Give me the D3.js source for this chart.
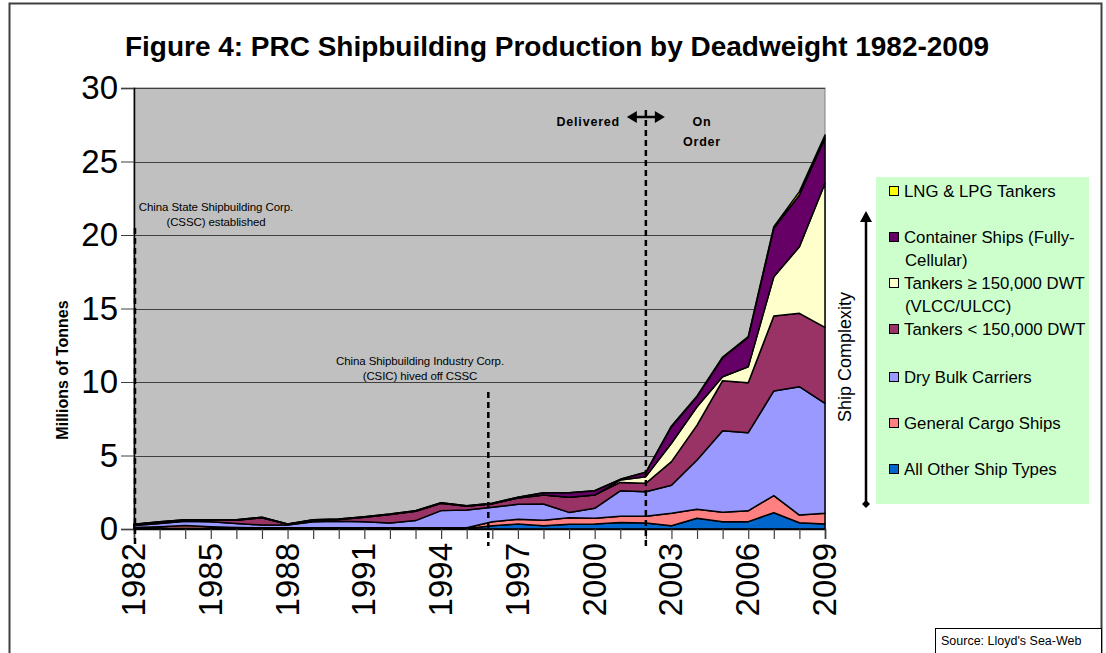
<!DOCTYPE html>
<html>
<head>
<meta charset="utf-8">
<script src="https://cdn.jsdelivr.net/npm/d3@7"></script>
<style>
  body { margin: 0; background: #ffffff; }
  text { font-family: "Liberation Sans", Arial, sans-serif; }
</style>
</head>
<body>
<script>
const width = 1106;
const height = 653;

// years 1982..2009
const years = d3.range(1982, 2010);

// millions of tonnes, per ship type (stacked bottom to top)
const allOther = [0.05, 0.05, 0.05, 0.05, 0.04, 0.04, 0.03, 0.04, 0.04, 0.04, 0.04, 0.04, 0.04, 0.04,
    0.22, 0.34, 0.22, 0.32, 0.34, 0.45, 0.40, 0.22, 0.73, 0.50, 0.50, 1.11, 0.43, 0.34];
const generalCargo = [0.05, 0.10, 0.18, 0.10, 0.06, 0.04, 0.05, 0.04, 0.04, 0.04, 0.04, 0.04, 0.04, 0.04,
    0.28, 0.32, 0.37, 0.45, 0.39, 0.41, 0.46, 0.85, 0.61, 0.64, 0.74, 1.16, 0.52, 0.73];
const dryBulk = [0.13, 0.23, 0.29, 0.35, 0.28, 0.19, 0.19, 0.42, 0.44, 0.42, 0.33, 0.49, 1.17, 1.21,
    0.98, 1.02, 1.11, 0.36, 0.68, 1.74, 1.68, 1.90, 3.35, 5.55, 5.31, 7.12, 8.73, 7.48];
const tankersSmall = [0.07, 0.08, 0.08, 0.10, 0.22, 0.50, 0.05, 0.10, 0.13, 0.30, 0.57, 0.63, 0.50, 0.26,
    0.24, 0.42, 0.61, 1.03, 0.90, 0.57, 0.57, 1.61, 2.38, 3.40, 3.40, 5.10, 4.99, 5.17];
const tankersLarge = [0, 0, 0, 0, 0, 0, 0, 0, 0, 0, 0, 0, 0, 0,
    0, 0, 0, 0, 0, 0.16, 0.45, 1.25, 1.25, 0.27, 1.09, 2.67, 4.53, 9.80];
const containers = [0.03, 0.03, 0.03, 0.03, 0.03, 0.03, 0.02, 0.03, 0.03, 0.04, 0.04, 0.05, 0.04, 0.04,
    0.03, 0.06, 0.16, 0.31, 0.29, 0.05, 0.30, 1.13, 0.68, 1.29, 2.00, 3.30, 3.52, 3.06];
const lngLpg = [0, 0, 0, 0, 0, 0, 0, 0, 0, 0, 0, 0, 0, 0,
    0, 0, 0, 0, 0, 0, 0, 0.05, 0.05, 0.05, 0.05, 0.11, 0.23, 0.22];

const seriesKeys = ["other", "cargo", "bulk", "tsmall", "tlarge", "container", "lng"];
const seriesColors = ["#0066CC", "#FF8080", "#9999FF", "#993366", "#FFFFCC", "#660066", "#FFFF00"];

// legend, top to bottom
const legendLabels = [
    ["LNG & LPG Tankers"],
    ["Container Ships (Fully-", "Cellular)"],
    ["Tankers \u2265 150,000 DWT", "(VLCC/ULCC)"],
    ["Tankers < 150,000 DWT"],
    ["Dry Bulk Carriers"],
    ["General Cargo Ships"],
    ["All Other Ship Types"]
];
const legendColors = ["#FFFF00", "#660066", "#FFFFCC", "#993366", "#9999FF", "#FF8080", "#0066CC"];
const legendY = [191, 237, 283, 329, 377, 423, 469];

const yTicks = [0, 5, 10, 15, 20, 25, 30];
const xLabelYears = [1982, 1985, 1988, 1991, 1994, 1997, 2000, 2003, 2006, 2009];

const rows = years.map((yr, i) => ({
    year: yr,
    other: allOther[i],
    cargo: generalCargo[i],
    bulk: dryBulk[i],
    tsmall: tankersSmall[i],
    tlarge: tankersLarge[i],
    container: containers[i],
    lng: lngLpg[i]
}));

const svg = d3.select("body")
    .append("svg")
    .attr("width", width)
    .attr("height", height);

// outer chart border
svg.append("rect")
    .attr("x", 9.5)
    .attr("y", 3.5)
    .attr("width", 1092)
    .attr("height", 670)
    .attr("fill", "#ffffff")
    .attr("stroke", "#404040")
    .attr("stroke-width", 2);

const xScale = d3.scaleLinear().domain([1982, 2009]).range([134, 825]);
const yScale = d3.scaleLinear().domain([0, 30]).range([529, 88]);

// plot area
svg.append("rect")
    .attr("x", xScale(1982))
    .attr("y", yScale(30))
    .attr("width", xScale(2009) - xScale(1982))
    .attr("height", yScale(0) - yScale(30))
    .attr("fill", "#C0C0C0")
    .attr("stroke", "#808080")
    .attr("stroke-width", 1);

// gridlines
svg.append("g")
    .selectAll("line")
    .data(yTicks.filter(d => d > 0))
    .enter()
    .append("line")
    .attr("x1", xScale(1982))
    .attr("x2", xScale(2009))
    .attr("y1", d => Math.round(yScale(d)) + 0.5)
    .attr("y2", d => Math.round(yScale(d)) + 0.5)
    .attr("stroke", "#404040")
    .attr("stroke-width", 1.2);

// stacked areas
const stack = d3.stack().keys(seriesKeys);
const layers = stack(rows);

const area = d3.area()
    .x(d => xScale(d.data.year))
    .y0(d => yScale(d[0]))
    .y1(d => yScale(d[1]));

svg.append("g")
    .selectAll("path")
    .data(layers)
    .enter()
    .append("path")
    .attr("d", area)
    .attr("fill", (d, i) => seriesColors[i])
    .attr("stroke", "#000000")
    .attr("stroke-width", 1.5)
    .attr("stroke-linejoin", "round");

// y axis
const yAxis = d3.axisLeft(yScale)
    .tickValues(yTicks)
    .tickSize(13)
    .tickPadding(3);

const yg = svg.append("g")
    .attr("transform", `translate(${xScale(1982)},0)`)
    .call(yAxis);
yg.selectAll("text")
    .attr("font-size", 33)
    .attr("fill", "#000");
yg.selectAll("line").attr("stroke", "#404040");
yg.select(".domain").attr("stroke", "#000").attr("stroke-width", 1.5);

// x axis
const xAxis = d3.axisBottom(xScale)
    .tickValues(years)
    .tickSize(10)
    .tickFormat("");

const xg = svg.append("g")
    .attr("transform", `translate(0,${yScale(0)})`)
    .call(xAxis);
xg.selectAll("line").attr("stroke", "#404040").attr("stroke-width", 1.2);
xg.select(".domain").attr("stroke", "#000").attr("stroke-width", 1.5);

svg.append("g")
    .selectAll("text")
    .data(xLabelYears)
    .enter()
    .append("text")
    .attr("transform", d => `translate(${xScale(d) + 11},${yScale(0) + 14}) rotate(-90)`)
    .attr("text-anchor", "end")
    .attr("font-size", 33)
    .text(d => d);

// dashed event lines
const events = [
    { year: 1982, top: 228, dx: 1 },
    { year: 1996, top: 392, dx: -4 },
    { year: 2002, top: 110, dx: 0 }
];
svg.append("g")
    .selectAll("line")
    .data(events)
    .enter()
    .append("line")
    .attr("x1", d => xScale(d.year) + d.dx)
    .attr("x2", d => xScale(d.year) + d.dx)
    .attr("y1", d => d.top)
    .attr("y2", 546)
    .attr("stroke", "#000")
    .attr("stroke-width", 2.5)
    .attr("stroke-dasharray", "6,4");

// annotations
const note = (lines, cx, y0) => {
    svg.append("text")
        .attr("x", cx)
        .attr("y", y0)
        .attr("text-anchor", "middle")
        .attr("font-size", 11.5)
        .attr("letter-spacing", -0.1)
        .selectAll("tspan")
        .data(lines)
        .enter()
        .append("tspan")
        .attr("x", cx)
        .attr("dy", (d, i) => i === 0 ? 0 : 15)
        .text(d => d);
};
note(["China State Shipbuilding Corp.", "(CSSC) established"], 216, 211);
note(["China Shipbuilding Industry Corp.", "(CSIC) hived off CSSC"], 420, 365);

svg.append("text")
    .attr("x", 620)
    .attr("y", 126)
    .attr("text-anchor", "end")
    .attr("font-size", 12.5)
    .attr("font-weight", "bold")
    .attr("letter-spacing", 0.8)
    .text("Delivered");

svg.append("text")
    .attr("x", 702)
    .attr("y", 126)
    .attr("text-anchor", "middle")
    .attr("font-size", 12.5)
    .attr("font-weight", "bold")
    .attr("letter-spacing", 0.8)
    .selectAll("tspan")
    .data(["On", "Order"])
    .enter()
    .append("tspan")
    .attr("x", 702)
    .attr("dy", (d, i) => i === 0 ? 0 : 20)
    .text(d => d);

// double arrow above 2002 line
const ax = xScale(2002);
svg.append("line")
    .attr("x1", ax - 12).attr("x2", ax + 12)
    .attr("y1", 117).attr("y2", 117)
    .attr("stroke", "#000").attr("stroke-width", 2.5);
svg.append("path")
    .attr("d", `M${ax - 19},117 L${ax - 9},111 L${ax - 9},123 Z M${ax + 19},117 L${ax + 9},111 L${ax + 9},123 Z`)
    .attr("fill", "#000");

// title
svg.append("text")
    .attr("x", 557)
    .attr("y", 56)
    .attr("text-anchor", "middle")
    .attr("font-size", 27)
    .attr("font-weight", "bold")
    .attr("textLength", 864)
    .attr("lengthAdjust", "spacingAndGlyphs")
    .text("Figure 4: PRC Shipbuilding Production by Deadweight 1982-2009");

// y label
svg.append("text")
    .attr("transform", "translate(68,370) rotate(-90)")
    .attr("text-anchor", "middle")
    .attr("font-size", 16)
    .attr("font-weight", "bold")
    .text("Millions of Tonnes");

// legend
svg.append("rect")
    .attr("x", 876)
    .attr("y", 177)
    .attr("width", 213)
    .attr("height", 327)
    .attr("fill", "#CCFFCC");

const leg = svg.append("g")
    .selectAll("g")
    .data(legendLabels)
    .enter()
    .append("g")
    .attr("transform", (d, i) => `translate(0,${legendY[i]})`);

leg.append("rect")
    .attr("x", 889.5)
    .attr("y", -4.5)
    .attr("width", 9)
    .attr("height", 9)
    .attr("fill", (d, i) => legendColors[i])
    .attr("stroke", "#000")
    .attr("stroke-width", 1);

leg.append("text")
    .attr("x", 904)
    .attr("y", 6)
    .attr("font-size", 16.8)
    .selectAll("tspan")
    .data(d => d)
    .enter()
    .append("tspan")
    .attr("x", (d, i) => i === 0 ? 904 : 905)
    .attr("dy", (d, i) => i === 0 ? 0 : 23)
    .text(d => d);

// ship complexity arrow
svg.append("line")
    .attr("x1", 866).attr("x2", 866)
    .attr("y1", 220).attr("y2", 503)
    .attr("stroke", "#000").attr("stroke-width", 2.5);
svg.append("path")
    .attr("d", "M866,211 L860,222 L872,222 Z M866,508 L862,504 L866,500 L870,504 Z")
    .attr("fill", "#000");

svg.append("text")
    .attr("transform", "translate(851,357) rotate(-90)")
    .attr("text-anchor", "middle")
    .attr("font-size", 18)
    .text("Ship Complexity");

// source box
svg.append("rect")
    .attr("x", 935.5)
    .attr("y", 628.5)
    .attr("width", 166)
    .attr("height", 40)
    .attr("fill", "#ffffff")
    .attr("stroke", "#000")
    .attr("stroke-width", 1);

svg.append("text")
    .attr("x", 941)
    .attr("y", 645)
    .attr("font-size", 12.5)
    .text("Source: Lloyd's Sea-Web");
</script>
</body>
</html>
